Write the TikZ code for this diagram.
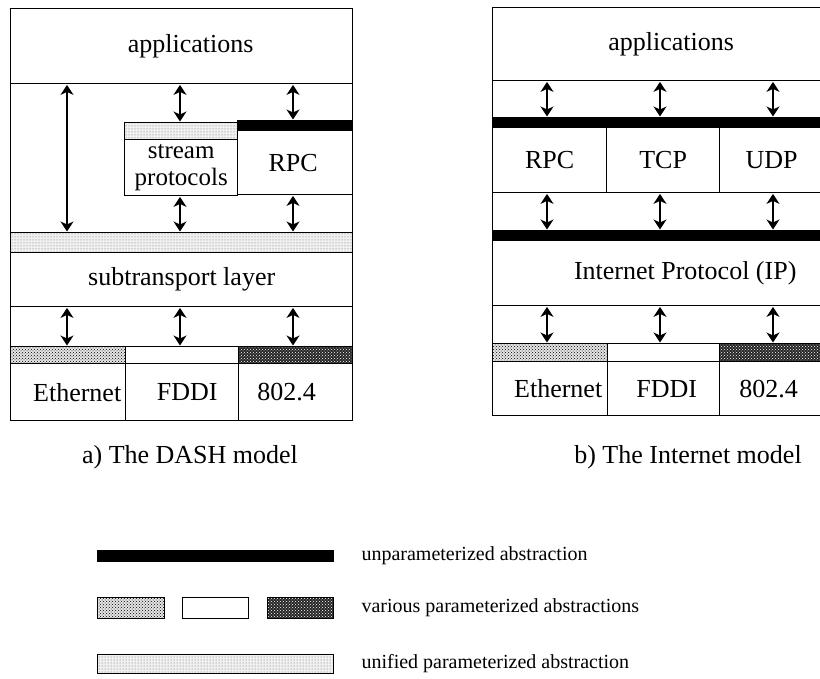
\documentclass[tikz,border=0pt]{standalone}
\usepackage{fontspec}
\setmainfont{Liberation Serif}
\usetikzlibrary{arrows.meta, patterns}

\newcommand{\dlabel}{\fontsize{26}{23}\selectfont}
\newcommand{\stlabel}{\fontsize{25}{27.5}\selectfont}
\newcommand{\leglabel}{\fontsize{20}{24}\selectfont}

\tikzset{
  layer/.style={draw, rectangle, inner sep=0pt, line width=1.4pt, anchor=north west, font=\dlabel},
  unified/.style={layer, preaction={fill=gray!12}, pattern=dots, pattern color=black!60},
  coarse/.style={layer, preaction={fill=gray!20}, pattern=crosshatch dots, pattern color=black},
  dense/.style={layer, preaction={fill=black!85}, pattern=crosshatch dots, pattern color=white},
  solid bar/.style={layer, fill=black},
  tx/.style={font=\dlabel, xshift=#1},
  arr/.style={{Stealth[length=10pt,width=13pt,inset=3pt]}-{Stealth[length=10pt,width=13pt,inset=3pt]}, line width=1.2pt, shorten <=0.5pt, shorten >=0.5pt},
}

\begin{document}
\begin{tikzpicture}[x=1pt, y=-1pt]
    \useasboundingbox (0,0) rectangle (820,678);
    % a) DASH model: frame and upper layers
    \node[layer, minimum width=342pt, minimum height=412pt] (lframe) at (10,8) {};
    \node[layer, minimum width=342pt, minimum height=75pt, label={[tx=9pt]center:applications}] (lapp) at (10,8) {};
    \node[unified, minimum width=113pt, minimum height=17pt] (lstbar) at (124,122) {};
    \node[layer, minimum width=113pt, minimum height=56pt, align=center, font=\stlabel] (lstream) at (124,139) {stream\\protocols};
    \node[solid bar, minimum width=115pt, minimum height=10pt] (lrpcbar) at (237,120) {};
    \node[layer, minimum width=115pt, minimum height=64pt, label={[tx=-2pt]center:RPC}] (lrpc) at (237,130) {};
    \node[unified, minimum width=342pt, minimum height=20pt] (luni) at (10,232) {};
    \node[layer, minimum width=342pt, minimum height=54pt] (lsub) at (10,252) {subtransport layer};
    % a) DASH model: networks
    \node[coarse, minimum width=115pt, minimum height=17pt] (lethbar) at (10,346) {};
    \node[layer, fill=white, minimum width=113pt, minimum height=17pt] (lfddibar) at (125,346) {};
    \node[dense, minimum width=114pt, minimum height=17pt] (ltokbar) at (238,346) {};
    \node[layer, minimum width=115pt, minimum height=57pt, label={[tx=9pt]center:Ethernet}] (leth) at (10,363) {};
    \node[layer, minimum width=113pt, minimum height=57pt, label={[tx=5pt]center:FDDI}] (lfddi) at (125,363) {};
    \node[layer, minimum width=114pt, minimum height=57pt, label={[tx=-9pt]center:802.4}] (ltok) at (238,363) {};
    \coordinate (la) at (67,0);
    \coordinate (lb) at (180,0);
    \coordinate (lc) at (293,0);
    \draw[arr] (lapp.south -| la) -- (luni.north -| la);
    \draw[arr] (lapp.south -| lb) -- (lstbar.north -| lb);
    \draw[arr] (lapp.south -| lc) -- (lrpcbar.north -| lc);
    \draw[arr] (lstream.south -| lb) -- (luni.north -| lb);
    \draw[arr] (lrpc.south -| lc) -- (luni.north -| lc);
    \draw[arr] (lsub.south -| la) -- (lethbar.north -| la);
    \draw[arr] (lsub.south -| lb) -- (lfddibar.north -| lb);
    \draw[arr] (lsub.south -| lc) -- (ltokbar.north -| lc);

    % b) Internet model: frame and upper layers
    \node[layer, minimum width=341pt, minimum height=408pt] (rframe) at (492,7) {};
    \node[layer, minimum width=341pt, minimum height=73pt, label={[tx=8pt]center:applications}] (rapp) at (492,7) {};
    \node[solid bar, minimum width=341pt, minimum height=10pt] (rtopbar) at (492,117) {};
    \node[layer, minimum width=114pt, minimum height=65pt] (rrpc) at (492,127) {RPC};
    \node[layer, minimum width=113pt, minimum height=65pt] (rtcp) at (606,127) {TCP};
    \node[layer, minimum width=114pt, minimum height=65pt, label={[tx=-5pt]center:UDP}] (rudp) at (719,127) {};
    \node[solid bar, minimum width=341pt, minimum height=10pt] (rbotbar) at (492,230) {};
    \node[layer, minimum width=341pt, minimum height=65pt, label={[tx=22pt]center:Internet Protocol (IP)}] (rip) at (492,240) {};
    % b) Internet model: networks
    \node[coarse, minimum width=115pt, minimum height=18pt] (rethbar) at (492,343) {};
    \node[layer, fill=white, minimum width=112pt, minimum height=18pt] (rfddibar) at (607,343) {};
    \node[dense, minimum width=114pt, minimum height=18pt] (rtokbar) at (719,343) {};
    \node[layer, minimum width=115pt, minimum height=54pt, label={[tx=8pt]center:Ethernet}] (reth) at (492,361) {};
    \node[layer, minimum width=112pt, minimum height=54pt, label={[tx=3pt]center:FDDI}] (rfddi) at (607,361) {};
    \node[layer, minimum width=114pt, minimum height=54pt, label={[tx=-8pt]center:802.4}] (rtok) at (719,361) {};
    \coordinate (ra) at (547,0);
    \coordinate (rb) at (660,0);
    \coordinate (rc) at (773,0);
    \foreach \c/\t/\b in {ra/rrpc/rethbar, rb/rtcp/rfddibar, rc/rudp/rtokbar} {
      \draw[arr] (rapp.south -| \c) -- (rtopbar.north -| \c);
      \draw[arr] (\t.south -| \c) -- (rbotbar.north -| \c);
      \draw[arr] (rip.south -| \c) -- (\b.north -| \c);
    }

    % captions
    \node[font=\dlabel] (capa) at (190,457) {a) The DASH model};
    \node[font=\dlabel] (capb) at (688,457) {b) The Internet model};

    % legend
    \node[solid bar, minimum width=236pt, minimum height=11pt] (legsolid) at (97,550) {};
    \node[coarse, minimum width=67pt, minimum height=21pt] (legcoarse) at (97,597) {};
    \node[layer, minimum width=66pt, minimum height=21pt] (legplain) at (182,597) {};
    \node[dense, minimum width=66pt, minimum height=21pt] (legdense) at (267,597) {};
    \node[unified, minimum width=236pt, minimum height=19pt] (leguni) at (97,654) {};
    \node[font=\leglabel, anchor=west] (txtsolid) at (358,556) {unparameterized abstraction};
    \node[font=\leglabel, anchor=west] (txtvarious) at (358,608) {various parameterized abstractions};
    \node[font=\leglabel, anchor=west] (txtuni) at (358,664) {unified parameterized abstraction};
\end{tikzpicture}
\end{document}
